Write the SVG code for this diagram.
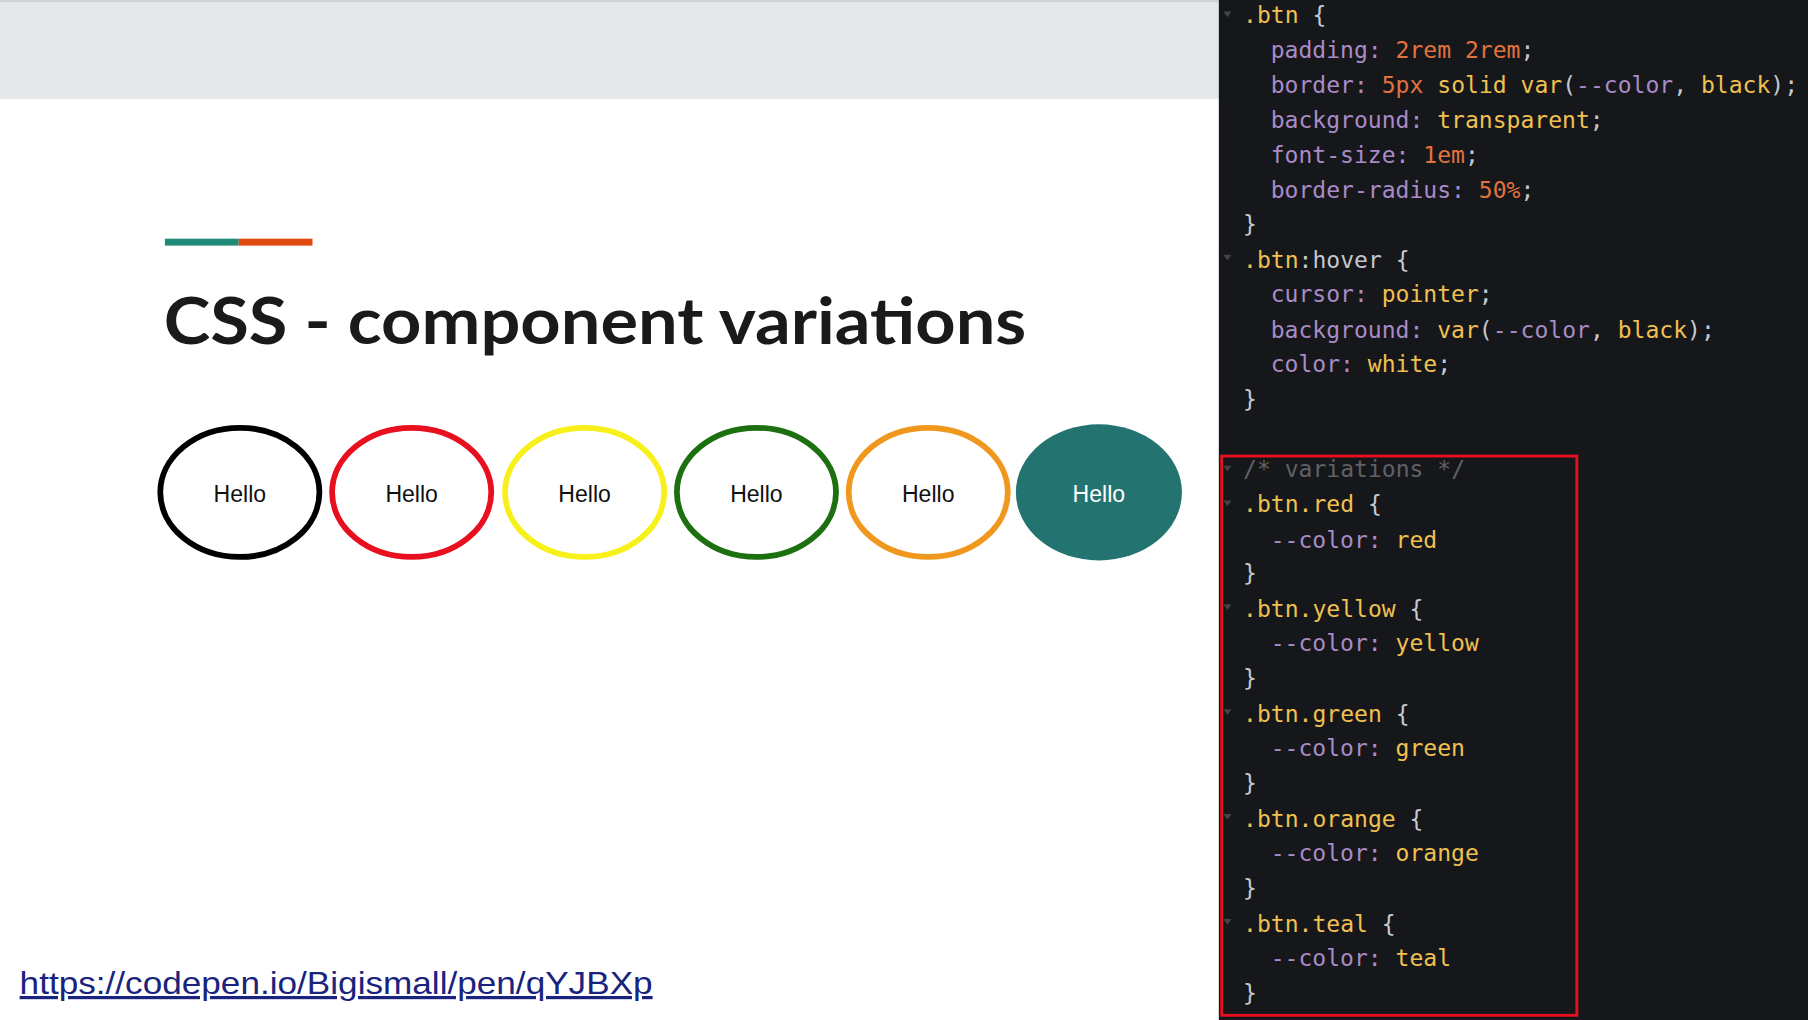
<svg xmlns="http://www.w3.org/2000/svg" width="1808" height="1020" viewBox="0 0 1808 1020">
<style>
.c{font-family:"DejaVu Sans Mono",monospace;font-size:20px;fill:#a88bc7}
.n{fill:#e0733f}.v{fill:#f0c050}.b{fill:#c5c8d0}.k{fill:#5f6166}
.h{font-family:"Liberation Sans",Arial,sans-serif;font-size:20px;text-anchor:middle;fill:#111}
.btn{fill:none;stroke-width:5}
.tri{fill:#444}
</style>
<g transform="scale(1.1531)">
<rect width="1568" height="885" fill="#fff"/>
<rect x="0" y="0" width="1057" height="86" fill="#e5e8eb"/>
<rect x="0" y="0" width="1057" height="2" fill="#d0d3d6"/>
<g id="title">
<rect x="143" y="207" width="64" height="6" fill="#1f8a78"/>
<rect x="207" y="207" width="64" height="6" fill="#e04a0f"/>
<text x="142" y="298" font-family="Lato,'Liberation Sans',sans-serif" font-weight="bold" font-size="56" fill="#1a1a1a" textLength="748" lengthAdjust="spacingAndGlyphs">CSS - component variations</text>
</g>
<g id="buttons">
<ellipse class="btn" cx="208" cy="427" rx="69" ry="56" stroke="#000"/><text class="h" x="208" y="435">Hello</text>
<ellipse class="btn" cx="357" cy="427" rx="69" ry="56" stroke="#e8101e"/><text class="h" x="357" y="435">Hello</text>
<ellipse class="btn" cx="507" cy="427" rx="69" ry="56" stroke="#f8f01a"/><text class="h" x="507" y="435">Hello</text>
<ellipse class="btn" cx="656" cy="427" rx="69" ry="56" stroke="#1d7010"/><text class="h" x="656" y="435">Hello</text>
<ellipse class="btn" cx="805" cy="427" rx="69" ry="56" stroke="#f0981e"/><text class="h" x="805" y="435">Hello</text>
<ellipse cx="953" cy="427" rx="72" ry="59" fill="#237370"/><text class="h" x="953" y="435" style="fill:#fff">Hello</text>
</g>
<g id="link">
<text x="17" y="862" font-family="'Liberation Sans',Arial,sans-serif" font-size="28" fill="#1a237e" text-decoration="underline" textLength="549" lengthAdjust="spacingAndGlyphs">https://codepen.io/Bigismall/pen/qYJBXp</text>
</g>
<g id="code">
<rect x="1057" y="0" width="511" height="885" fill="#16171a"/>
<g class="tri">
<path d="M1061 10h7l-3.5 5z"/><path d="M1061 221h7l-3.5 5z"/><path d="M1061 404h7l-3.5 5z"/><path d="M1061 434h7l-3.5 5z"/><path d="M1061 524h7l-3.5 5z"/><path d="M1061 615h7l-3.5 5z"/><path d="M1061 706h7l-3.5 5z"/><path d="M1061 797h7l-3.5 5z"/>
</g>
<text class="c" x="1078" y="20"><tspan class="v">.btn</tspan> <tspan class="b">{</tspan></text>
<text class="c" x="1102" y="50">padding: <tspan class="n">2rem 2rem</tspan><tspan class="b">;</tspan></text>
<text class="c" x="1102" y="81">border: <tspan class="n">5px</tspan> <tspan class="v">solid var</tspan><tspan class="b">(</tspan>--color<tspan class="b">,</tspan> <tspan class="v">black</tspan><tspan class="b">);</tspan></text>
<text class="c" x="1102" y="111">background: <tspan class="v">transparent</tspan><tspan class="b">;</tspan></text>
<text class="c" x="1102" y="141">font-size: <tspan class="n">1em</tspan><tspan class="b">;</tspan></text>
<text class="c" x="1102" y="172">border-radius: <tspan class="n">50%</tspan><tspan class="b">;</tspan></text>
<text class="c b" x="1078" y="201">}</text>
<text class="c" x="1078" y="232"><tspan class="v">.btn</tspan><tspan class="b">:hover {</tspan></text>
<text class="c" x="1102" y="262">cursor: <tspan class="v">pointer</tspan><tspan class="b">;</tspan></text>
<text class="c" x="1102" y="293">background: <tspan class="v">var</tspan><tspan class="b">(</tspan>--color<tspan class="b">,</tspan> <tspan class="v">black</tspan><tspan class="b">);</tspan></text>
<text class="c" x="1102" y="323">color: <tspan class="v">white</tspan><tspan class="b">;</tspan></text>
<text class="c b" x="1078" y="353">}</text>
<text class="c k" x="1078" y="414">/* variations */</text>
<text class="c" x="1078" y="444"><tspan class="v">.btn.red</tspan> <tspan class="b">{</tspan></text>
<text class="c" x="1102" y="475">--color: <tspan class="v">red</tspan></text>
<text class="c b" x="1078" y="504">}</text>
<text class="c" x="1078" y="535"><tspan class="v">.btn.yellow</tspan> <tspan class="b">{</tspan></text>
<text class="c" x="1102" y="565">--color: <tspan class="v">yellow</tspan></text>
<text class="c b" x="1078" y="595">}</text>
<text class="c" x="1078" y="626"><tspan class="v">.btn.green</tspan> <tspan class="b">{</tspan></text>
<text class="c" x="1102" y="656">--color: <tspan class="v">green</tspan></text>
<text class="c b" x="1078" y="686">}</text>
<text class="c" x="1078" y="717"><tspan class="v">.btn.orange</tspan> <tspan class="b">{</tspan></text>
<text class="c" x="1102" y="747">--color: <tspan class="v">orange</tspan></text>
<text class="c b" x="1078" y="777">}</text>
<text class="c" x="1078" y="808"><tspan class="v">.btn.teal</tspan> <tspan class="b">{</tspan></text>
<text class="c" x="1102" y="838">--color: <tspan class="v">teal</tspan></text>
<text class="c b" x="1078" y="868">}</text>
<rect x="1059.5" y="395.5" width="308" height="485" fill="none" stroke="#e8101e" stroke-width="2.5"/>
</g>
</g>
</svg>
